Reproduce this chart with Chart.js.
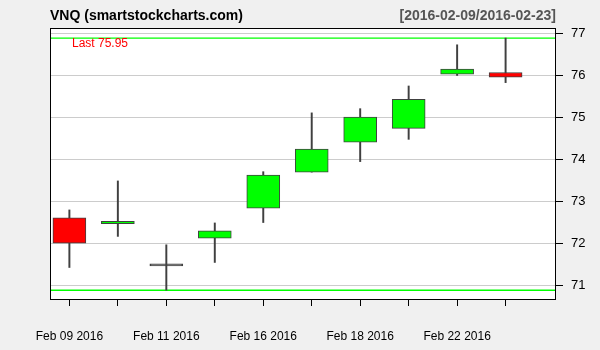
<!DOCTYPE html>
<html>
<head>
<meta charset="utf-8">
<script src="https://cdn.jsdelivr.net/npm/chart.js@4/dist/chart.umd.min.js"></script>
<style>
  html, body { margin: 0; padding: 0; background: #f0f0f0; }
  #wrap { width: 600px; height: 350px; }
</style>
</head>
<body>
<div id="wrap"><canvas id="c"></canvas></div>
<script>
// VNQ daily bars, 2016-02-09 .. 2016-02-23
const dates = ['Feb 09 2016', 'Feb 10 2016', 'Feb 11 2016', 'Feb 12 2016', 'Feb 16 2016',
               'Feb 17 2016', 'Feb 18 2016', 'Feb 19 2016', 'Feb 22 2016', 'Feb 23 2016'];
const opens  = [72.60, 72.46, 71.46, 72.12, 72.83, 73.69, 74.40, 74.73, 76.02, 76.06];
const closes = [72.00, 72.52, 71.46, 72.29, 73.62, 74.24, 75.00, 75.42, 76.14, 75.95];
const highs  = [72.79, 73.48, 71.96, 72.48, 73.70, 75.10, 75.20, 75.74, 76.72, 76.88];
const lows   = [71.42, 72.16, 70.88, 71.54, 72.49, 73.69, 73.94, 74.47, 75.99, 75.82];
const yTicks = [71, 72, 73, 74, 75, 76, 77];

const periodHigh = Math.max(...highs);
const periodLow = Math.min(...lows);
const lastClose = closes[closes.length - 1];

const X_MIN = -0.4, X_MAX = 10.04;
const FONT = '"Liberation Sans", Arial, Helvetica, sans-serif';

const bodyColors = opens.map((o, i) =>
  closes[i] > o ? '#00ff00' : (closes[i] < o ? '#ff0000' : '#404040'));

// backgrounds, box, titles, "Last" label
const decor = {
  id: 'decor',
  beforeDraw(chart) {
    const { ctx, chartArea: a } = chart;
    ctx.save();
    ctx.fillStyle = '#f0f0f0';
    ctx.fillRect(0, 0, chart.width, chart.height);
    ctx.fillStyle = '#ffffff';
    ctx.fillRect(a.left, a.top, a.right - a.left, a.bottom - a.top);
    ctx.restore();
  },
  afterDraw(chart) {
    const { ctx, chartArea: a } = chart;
    ctx.save();
    ctx.strokeStyle = '#000';
    ctx.lineWidth = 1;
    ctx.strokeRect(a.left + 0.5, a.top + 0.5, a.right - a.left - 1, a.bottom - a.top);

    ctx.font = 'bold 14px ' + FONT;
    ctx.textBaseline = 'alphabetic';
    ctx.fillStyle = '#000';
    ctx.textAlign = 'left';
    ctx.fillText('VNQ (smartstockcharts.com)', a.left, 20);
    ctx.fillStyle = '#555555';
    ctx.textAlign = 'right';
    ctx.fillText('[2016-02-09/2016-02-23]', a.right, 20);

    ctx.font = '12px ' + FONT;
    ctx.fillStyle = '#ff0000';
    ctx.textAlign = 'left';
    ctx.textBaseline = 'middle';
    ctx.fillText('Last ' + lastClose.toFixed(2), a.left + 22, a.top + 16);
    ctx.restore();
  }
};

new Chart(document.getElementById('c'), {
  type: 'bar',
  data: {
    datasets: [
      {
        label: 'body',
        order: 0,
        grouped: false,
        data: opens.map((o, i) => ({ x: i, y: [o, closes[i]] })),
        backgroundColor: bodyColors,
        borderColor: '#404040',
        borderWidth: 1,
        borderSkipped: false,
        barThickness: 33,
        minBarLength: 2
      },
      {
        label: 'wick',
        order: 1,
        grouped: false,
        data: lows.map((l, i) => ({ x: i, y: [l, highs[i]] })),
        backgroundColor: '#404040',
        borderWidth: 0,
        barThickness: 1.3
      },
      {
        type: 'line',
        label: 'high',
        order: 2,
        data: [{ x: X_MIN, y: periodHigh }, { x: X_MAX, y: periodHigh }],
        borderColor: '#00ff00',
        borderWidth: 1.4,
        pointRadius: 0
      },
      {
        type: 'line',
        label: 'low',
        order: 2,
        data: [{ x: X_MIN, y: periodLow }, { x: X_MAX, y: periodLow }],
        borderColor: '#00ff00',
        borderWidth: 1.4,
        pointRadius: 0
      }
    ]
  },
  options: {
    responsive: true,
    maintainAspectRatio: false,
    animation: false,
    layout: { padding: { left: 50, top: 28, right: 0, bottom: 0 } },
    plugins: {
      legend: { display: false },
      tooltip: { enabled: false }
    },
    scales: {
      x: {
        type: 'linear',
        offset: false,
        min: X_MIN,
        max: X_MAX,
        afterBuildTicks: s => { s.ticks = dates.map((d, i) => ({ value: i })); },
        afterFit: s => { s.height = 51; },
        border: { display: false },
        grid: {
          offset: false,
          drawOnChartArea: false,
          drawTicks: true,
          tickLength: 7,
          tickColor: '#000',
          tickWidth: 1
        },
        ticks: {
          autoSkip: false,
          maxRotation: 0,
          padding: 23,
          color: '#000',
          font: { family: FONT, size: 12 },
          callback: v => (v % 2 === 0 ? dates[v] : '')
        }
      },
      y: {
        position: 'right',
        min: 70.67,
        max: 77.12,
        afterBuildTicks: s => { s.ticks = yTicks.map(v => ({ value: v })); },
        afterFit: s => { s.width = 44; },
        border: { display: false },
        grid: {
          color: '#cccccc',
          lineWidth: 1,
          drawTicks: true,
          tickLength: 7,
          tickColor: '#000',
          tickWidth: 1
        },
        ticks: {
          padding: 8,
          color: '#000',
          font: { family: FONT, size: 13 },
          callback: v => String(v)
        }
      }
    }
  },
  plugins: [decor]
});
</script>
</body>
</html>
